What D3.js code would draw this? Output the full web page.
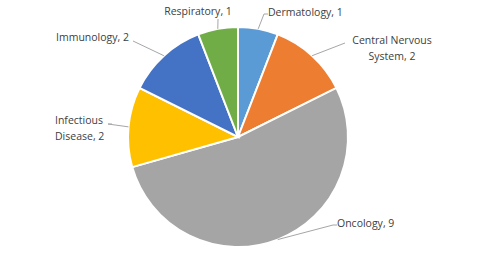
<!DOCTYPE html>
<html>
<head>
<meta charset="utf-8">
<script src="https://cdn.jsdelivr.net/npm/d3@7"></script>
<style>
  body { margin: 0; background: #fff; }
  text { font-family: "Open Sans", sans-serif; font-size: 10.5px; fill: #404040; }
</style>
</head>
<body>
<div id="chart"></div>
<script>
// Data
var categories = ["Dermatology", "Central Nervous System", "Oncology", "Infectious Disease", "Immunology", "Respiratory"];
var counts = [1, 2, 9, 2, 2, 1];
var colors = ["#5B9BD5", "#ED7D31", "#A5A5A5", "#FFC000", "#4472C4", "#70AD47"];
// label text split into lines as in the picture
var labelLines = [
  ["Dermatology, 1"],
  ["Central Nervous", "System, 2"],
  ["Oncology, 9"],
  ["Infectious", "Disease, 2"],
  ["Immunology, 2"],
  ["Respiratory, 1"]
];

// Layout of the labels: leader elbow relative to pie center, text anchor
var labelLayout = [
  {ex: 26, ey: -123, anchor: "start", tx: 4, ty: -2},
  {ex: 107, ey: -94, anchor: "middle", tx: 47, ty: -3},
  {ex: 95, ey: 88, anchor: "start", tx: 4, ty: -2},
  {ex: -130, ey: -13, anchor: "start", tx: -53, ty: -4},
  {ex: -105, ey: -96, anchor: "end", tx: -4, ty: -4},
  {ex: -20, ey: -118, anchor: "middle", tx: -20, ty: -8}
];

var width = 478, height = 280;
var cx = 238, cy = 137, radius = 110;

var svg = d3.select("#chart").append("svg")
  .attr("width", width)
  .attr("height", height)
  .append("g")
  .attr("transform", "translate(" + cx + "," + cy + ")");

var data = categories.map(function(c, i) { return {name: c, value: counts[i], i: i}; });

var pie = d3.pie()
  .sort(null)
  .value(function(d) { return d.value; });

var arc = d3.arc().innerRadius(0).outerRadius(radius);

var arcs = pie(data);

// slices
svg.selectAll("path.slice")
  .data(arcs)
  .enter().append("path")
  .attr("class", "slice")
  .attr("d", arc)
  .style("fill", function(d) { return colors[d.data.i]; })
  .style("stroke", "#fff")
  .style("stroke-width", 2);

// leader lines: from the slice edge to the label elbow
function edgePoint(d) {
  var a = (d.startAngle + d.endAngle) / 2;
  return [Math.sin(a) * radius, -Math.cos(a) * radius];
}

svg.selectAll("polyline.leader")
  .data(arcs)
  .enter().append("polyline")
  .attr("class", "leader")
  .attr("points", function(d) {
    var p = edgePoint(d), L = labelLayout[d.data.i];
    var hx = L.ex + (L.anchor == "start" ? 4 : 0);
    return [p, [L.ex, L.ey], [hx, L.ey]].map(function(q) { return q.join(","); }).join(" ");
  })
  .style("fill", "none")
  .style("stroke", "#A6A6A6")
  .style("stroke-width", 1);

// labels
var labels = svg.selectAll("text.label")
  .data(arcs)
  .enter().append("text")
  .attr("class", "label")
  .attr("text-anchor", function(d) { return labelLayout[d.data.i].anchor; })
  .attr("transform", function(d) {
    var L = labelLayout[d.data.i];
    return "translate(" + (L.ex + L.tx) + "," + (L.ey + L.ty) + ")";
  });

labels.selectAll("tspan")
  .data(function(d) { return labelLines[d.data.i].map(function(t, k) { return {t: t, k: k}; }); })
  .enter().append("tspan")
  .attr("x", 0)
  .attr("dy", function(d) { return d.k == 0 ? "0.35em" : "16px"; })
  .text(function(d) { return d.t; });
</script>
</body>
</html>
